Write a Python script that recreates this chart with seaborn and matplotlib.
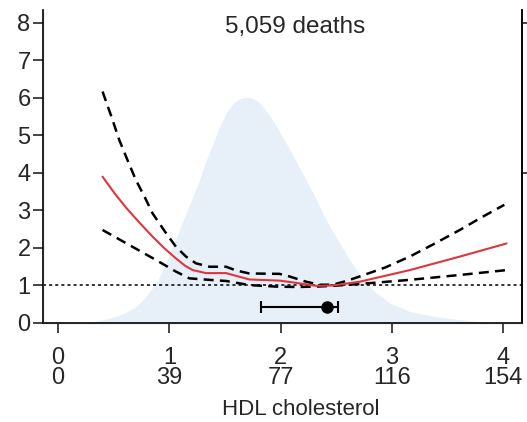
import numpy as np
import pandas as pd
import matplotlib
matplotlib.use("Agg")
import matplotlib.pyplot as plt
import seaborn as sns

# --- data ---
hdl_x = [0.40, 0.51, 0.61, 0.73, 0.85, 0.96, 1.06, 1.14, 1.21, 1.33, 1.51, 1.62, 1.72, 1.99, 2.14, 2.32, 2.47, 2.71, 3.16, 3.61, 4.03]
hr = [3.90, 3.45, 3.08, 2.68, 2.30, 1.98, 1.72, 1.53, 1.41, 1.33, 1.33, 1.24, 1.16, 1.13, 1.07, 0.99, 1.00, 1.10, 1.41, 1.77, 2.12]

upper_x = [0.40, 0.48, 0.55, 0.63, 0.70, 0.78, 0.85, 0.96, 1.06, 1.15, 1.24, 1.36, 1.51, 1.60, 1.72, 1.99, 2.08, 2.23, 2.35, 2.47, 2.59, 2.71, 2.94, 3.16, 3.38, 3.61, 3.82, 4.01]
upper = [6.17, 5.50, 4.88, 4.30, 3.81, 3.35, 2.92, 2.44, 2.03, 1.77, 1.59, 1.50, 1.50, 1.40, 1.32, 1.31, 1.24, 1.10, 1.02, 1.02, 1.12, 1.24, 1.48, 1.77, 2.11, 2.48, 2.84, 3.15]

lower_x = [0.40, 0.64, 0.88, 1.06, 1.18, 1.36, 1.51, 1.72, 1.96, 2.14, 2.32, 2.47, 2.71, 3.16, 3.61, 4.03]
lower = [2.48, 2.08, 1.68, 1.37, 1.19, 1.15, 1.12, 1.01, 0.97, 0.96, 0.97, 0.99, 1.04, 1.15, 1.28, 1.41]

dens_x = [0.10, 0.31, 0.46, 0.60, 0.70, 0.79, 0.90, 0.97, 1.03, 1.09, 1.15, 1.21, 1.27, 1.32, 1.38, 1.44, 1.51, 1.57, 1.62, 1.68,
          1.74, 1.80, 1.89, 1.98, 2.07, 2.15, 2.23, 2.31, 2.38, 2.46, 2.55, 2.64, 2.74, 2.86, 2.98, 3.16, 3.37, 3.61, 3.85, 4.10]
dens_y = [0.00, 0.03, 0.12, 0.27, 0.43, 0.70, 1.15, 1.59, 2.03, 2.48, 2.92, 3.36, 3.80, 4.25, 4.69, 5.15, 5.59, 5.84, 5.96, 6.02,
          6.00, 5.90, 5.59, 5.15, 4.69, 4.25, 3.80, 3.36, 2.92, 2.48, 2.03, 1.59, 1.15, 0.80, 0.53, 0.31, 0.18, 0.09, 0.02, 0.00]

mean_x = 2.42
mean_y = 0.42
ci_low, ci_high = 1.82, 2.52

xticks = [0, 1, 2, 3, 4]
xtick_labels = ["0\n0", "1\n39", "2\n77", "3\n116", "4\n154"]
yticks = [0, 1, 2, 3, 4, 5, 6, 7, 8]
title_text = "5,059 deaths"
xlabel_text = "HDL cholesterol"

# --- plotting ---
sns.set_style("ticks")
plt.rcParams['font.family'] = ['Liberation Sans', 'DejaVu Sans']

fig = plt.figure(figsize=(5.27, 4.22), dpi=100)
ax = fig.add_axes([0.0816, 0.2346, 0.9083, 0.7414])

ax.fill_between(dens_x, 0, dens_y, color="#e7eff8", lw=0, zorder=0)

ax.axhline(1, color="black", lw=1.1, ls=(0, (2, 2)), zorder=1)

df_hr = pd.DataFrame({"x": hdl_x, "y": hr})
df_up = pd.DataFrame({"x": upper_x, "y": upper})
df_lo = pd.DataFrame({"x": lower_x, "y": lower})

sns.lineplot(data=df_up, x="x", y="y", ax=ax, color="black", lw=1.8,
             estimator=None, sort=True, zorder=3)
ax.lines[-1].set_dashes([4, 2.5])
sns.lineplot(data=df_lo, x="x", y="y", ax=ax, color="black", lw=1.8,
             estimator=None, sort=True, zorder=3)
ax.lines[-1].set_dashes([4, 2.5])
sns.lineplot(data=df_hr, x="x", y="y", ax=ax, color="#e0353d", lw=1.5,
             estimator=None, sort=True, zorder=4)
for ln in ax.lines:
    ln.set_solid_joinstyle("round")
    ln.set_dash_joinstyle("round")

ax.errorbar([mean_x], [mean_y], xerr=[[mean_x - ci_low], [ci_high - mean_x]],
            fmt="o", color="black", ms=8, capsize=4, elinewidth=1.5, capthick=1.5, zorder=5)

ax.text(2.13, 7.9, title_text, ha="center", va="center", fontsize=17.5)

ax.set_xlim(-0.135, 4.166)
ax.set_ylim(0, 8.34)
ax.set_xticks(xticks)
ax.set_xticklabels(xtick_labels, fontsize=17, linespacing=0.93)
ax.set_yticks(yticks)
ax.set_yticklabels([str(v) for v in yticks], fontsize=17)
ax.set_xlabel(xlabel_text, fontsize=16, labelpad=7, x=0.539)
ax.set_ylabel("")

ax.tick_params(axis="x", length=7, width=1.2, pad=10)
ax.tick_params(axis="y", length=7, width=1.2, pad=2)
ax.spines["top"].set_visible(False)
for s in ["left", "bottom", "right"]:
    ax.spines[s].set_linewidth(1.2)
    ax.spines[s].set_color("black")

ax2 = ax.twinx()
ax2.set_ylim(0, 8.34)
ax2.set_yticks([4, 8])
ax2.set_yticklabels(["", ""])
ax2.tick_params(axis="y", length=7, width=1.2)
ax2.spines["top"].set_visible(False)
ax2.spines["right"].set_linewidth(1.2)
ax2.spines["right"].set_color("black")

fig.savefig("out.png", dpi=100)
